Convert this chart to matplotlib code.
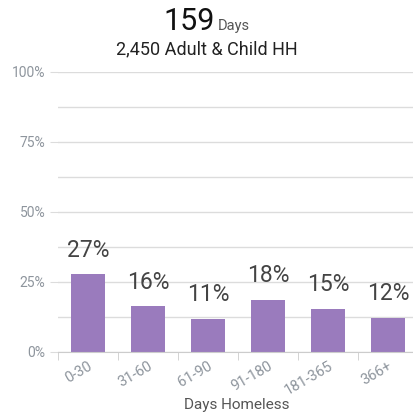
import matplotlib.pyplot as plt
from matplotlib.ticker import MultipleLocator, FuncFormatter

plt.rcParams['font.family'] = ['Roboto', 'DejaVu Sans']

# Data
categories = ["0-30", "31-60", "61-90", "91-180", "181-365", "366+"]
shares = [27.6, 16.3, 11.7, 18.5, 15.4, 12.1]
share_labels = ["27%", "16%", "11%", "18%", "15%", "12%"]
headline_value = "159"
headline_unit = "Days"
subtitle = "2,450 Adult & Child HH"

W, H = 414, 420
fig = plt.figure(figsize=(W / 100, H / 100), dpi=100)

# plot area in pixel coords: x 58..418, y 71.7..351.7
left, right, top, bottom = 58, 418, 71.7, 351.7
ax = fig.add_axes([left / W, 1 - bottom / H, (right - left) / W, (bottom - top) / H])

x = range(len(categories))
bars = ax.bar(x, shares, width=0.57, color="#9a7bbd", zorder=3)

for b, lab in zip(bars, share_labels):
    ax.annotate(lab, (b.get_x() + b.get_width() / 2, b.get_height()),
                xytext=(0, 9), textcoords="offset points",
                ha="center", va="bottom", fontsize=16.5, color="#444444")

ax.set_xlim(-0.5, len(categories) - 0.5)
ax.set_ylim(0, 100)
ax.yaxis.set_major_locator(MultipleLocator(25))
ax.yaxis.set_minor_locator(MultipleLocator(12.5))
ax.yaxis.set_major_formatter(FuncFormatter(lambda v, p: f"{int(v)}%"))
ax.grid(axis="y", which="both", color="#dcdcdc", linewidth=1, zorder=0)
ax.tick_params(axis="y", which="major", length=6, color="#dcdcdc",
               labelsize=10, labelcolor="#8e959d", pad=3)
ax.tick_params(axis="y", which="minor", length=0)

ax.set_xticks([i - 0.5 for i in x], minor=True)
ax.set_xticks(list(x))
ax.set_xticklabels(categories, rotation=30, ha="right", rotation_mode="anchor",
                   fontsize=10.5, color="#8e959d")
ax.tick_params(axis="x", which="major", length=0, pad=5)
ax.tick_params(axis="x", which="minor", length=6, color="#cccccc")

for s in ["top", "right", "left"]:
    ax.spines[s].set_visible(False)
ax.spines["bottom"].set_color("#cccccc")
ax.spines["bottom"].set_zorder(4)

fig.text(237 / W, 1 - 405 / H, "Days Homeless", ha="center", va="center",
         fontsize=11, color="#555555")

# headline
fig.text(189 / W, 1 - 30 / H, headline_value, ha="center", va="baseline",
         fontsize=22, color="#111111")
fig.text(218 / W, 1 - 30 / H, headline_unit, ha="left", va="baseline",
         fontsize=10.5, color="#555555")
fig.text(207 / W, 1 - 54 / H, subtitle, ha="center", va="baseline",
         fontsize=13, color="#222222")

fig.savefig("out.png", dpi=100)
